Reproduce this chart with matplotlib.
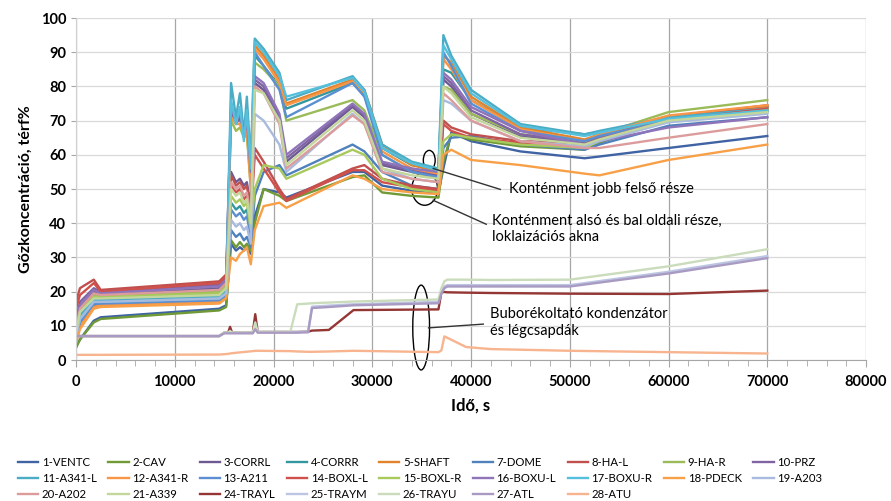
import matplotlib
matplotlib.use("Agg")
import matplotlib.pyplot as plt
from matplotlib.patches import Ellipse
from matplotlib.ticker import MultipleLocator

plt.rcParams['font.family'] = ['Lato', 'DejaVu Sans']

# time grid (s) for the containment series
T = [0, 400, 1800, 2500, 14500, 15200,
     15700, 16200, 16600, 17000, 17300, 17700,
     18100, 19000, 20600, 21300, 28000, 29200, 31000, 34000, 36700,
     37200, 38000, 40000, 45000, 51500, 53000, 60000, 70000]

v_ventc = [4, 6, 11.5, 12.5, 15, 16, 34, 32, 33, 32, 33, 31,
           42, 50, 49, 47.5, 55, 55, 51, 49.5, 49, 56, 66.5, 64, 61, 59, 59.5, 62, 65.5]
v_cav = [3.5, 6, 11, 12, 14.5, 15.5, 35, 33, 34.5, 33, 34, 32,
         40, 50, 48, 46.5, 53.5, 54, 49, 48, 47.5, 58, 66, 64.5, 62.5, 61.5, 63.5, 70.5, 74]
v_corrl = [10, 15, 20, 19, 21, 23, 55, 52, 53, 51, 52, 45,
           81, 79, 70, 58, 74, 71, 57, 55, 54, 82, 80, 72, 65.5, 63.5, 65, 71, 74]
v_corrr = [8, 13, 18, 17.5, 19, 20.5, 46, 44, 45, 43, 44, 37,
           89, 86, 80, 73.5, 81, 77.5, 62, 57, 56, 85, 84, 76, 68, 66, 66.5, 71, 73]
v_shaft = [6, 10, 16, 16, 17, 18.5, 72, 70, 70, 67, 68, 52,
           92, 89, 82, 75, 82, 79, 63, 57, 55, 89, 87, 77, 68, 64.5, 66, 71, 74]
v_dome = [6, 11, 16, 16.5, 17.5, 19, 38, 36, 37, 35, 36, 33,
          48, 55, 57, 54, 63, 61, 55, 51, 50, 62, 65, 65.5, 63, 61.5, 63, 68.5, 71]
v_hal = [17, 21, 23.5, 20.5, 23, 25, 54, 51, 52, 50, 51, 44,
         62, 58, 50, 47, 56, 57, 53, 51, 50, 70, 68, 66, 64, 63.5, 65, 71, 74.5]
v_har = [10, 15, 19, 18.5, 20, 22, 70, 67, 68, 65, 66, 50,
         87, 85, 80, 70, 76, 73, 60, 55, 53, 80, 79, 72, 66, 64, 66, 72.5, 76]
v_prz = [12, 17, 21, 20, 22, 24, 73, 69, 71, 66, 69, 54,
         82, 80, 71, 59, 74.5, 71.5, 57.5, 55.5, 54.5, 83, 81, 73, 66, 63.5, 65, 70, 73]
v_a341l = [7, 13, 17.5, 17.5, 18.5, 20, 81, 71, 78, 66, 77, 58,
           94, 91, 84, 76, 83, 79, 63, 58, 56, 95, 89, 79, 69, 66, 67, 71, 73.5]
v_a341r = [5, 10, 15.5, 16, 17, 18.5, 71, 69, 69, 66, 67, 50,
           91, 88, 81, 74.5, 81.5, 78, 61, 56, 54.5, 88, 85, 76, 67.5, 64, 66, 71.5, 74.5]
v_a211 = [6, 11, 16.5, 16.5, 17.5, 19, 44, 42, 43, 41, 42, 36,
          90, 86, 79, 71, 81, 77, 60, 55, 53.5, 90, 86, 75, 67, 64, 65.5, 70, 72.5]
v_boxll = [15, 19, 22.5, 20, 22.5, 24.5, 51, 49, 50, 47, 48, 41,
           60, 56, 49, 46.5, 55.5, 55.5, 52, 50.5, 49.5, 69, 67, 65, 63.5, 63, 64.5, 70, 73.5]
v_boxlr = [9, 14, 18.5, 18.5, 19.5, 21.5, 48, 46, 47, 45, 46, 38,
           50, 57, 56, 53, 61.5, 60, 53, 50, 49, 64, 66, 65, 63, 62, 64, 70, 73]
v_boxul = [11, 16, 20.5, 19.5, 21.5, 23.5, 74, 70, 72, 67, 70, 55,
           83, 81, 72, 60, 75, 72, 58, 56, 55, 84, 82, 74, 67, 63, 64, 68, 71]
v_boxur = [7, 12, 17, 17, 18, 19.5, 76, 69, 74, 64, 73, 56,
           93, 90, 83, 77, 82.5, 78.5, 62, 57.5, 55.5, 92, 88, 78, 68.5, 65.5, 66.5, 70.5, 73]
v_pdeck = [5, 9, 15, 15.5, 16.5, 18, 30, 29, 31, 32, 33, 28,
           38, 45, 46, 44.5, 54, 53, 50, 49, 48.5, 60, 61.5, 58.5, 57, 54.5, 54, 58.5, 63]
v_a203 = [7, 12, 17, 17, 18, 19.5, 41, 39, 40, 38, 39, 34,
          72, 70, 63, 55, 72, 69, 56, 53, 52, 76, 75, 70, 64, 62.5, 64, 69.5, 72]
v_a202 = [9, 15, 19.5, 19, 20.5, 22.5, 52, 50, 51, 48, 49, 42,
          80, 78, 69, 56, 71.5, 69, 55, 53, 52, 78, 76, 70, 64, 62, 62, 65, 69]
v_a339 = [8, 14, 18, 18, 19, 21, 50, 48, 49, 46, 47, 40,
          79, 78, 70, 57, 73, 70, 56, 54, 53, 80, 78, 71, 65, 63, 64.5, 70, 72.5]

# time grid (s) for bubbler condenser trays and air traps
TL = [0, 14500, 15000, 15400, 15600, 15800, 17900, 18150, 18400, 21700, 22400,
      23500, 23900, 25600, 28100, 36700, 37000, 37300, 37600, 39500, 42000,
      50000, 60000, 70000]
v_trayl = [7, 7, 8, 8, 9.7, 8, 8, 13.4, 8.2, 8.2, 8.2, 8.3, 8.6, 8.8, 14.6, 14.8,
           19.8, 19.9, 19.8, 19.7, 19.6, 19.4, 19.3, 20.3]
v_traym = [7, 7, 8, 8, 8, 8, 8, 9.5, 8.2, 8.2, 8.2, 8.3, 15.6, 15.9, 16.3, 17,
           20, 21.5, 21.9, 21.9, 21.9, 21.9, 25.8, 30.4]
v_trayu = [7, 7, 8, 8, 8.5, 8, 8, 11, 8.2, 8.2, 16.3, 16.5, 16.6, 16.8, 17.1, 17.7,
           21, 23, 23.5, 23.5, 23.4, 23.5, 27.4, 32.4]
v_atl = [7, 7, 7.8, 7.8, 7.8, 7.8, 7.8, 9, 8, 8, 8, 8.1, 15.2, 15.5, 16, 16.6,
         19.5, 21, 21.5, 21.5, 21.5, 21.5, 25.3, 29.8]
v_atu = [1.5, 1.6, 1.7, 1.8, 1.9, 2.0, 2.6, 2.7, 2.7, 2.6, 2.5, 2.4, 2.4, 2.5, 2.7, 2.3,
         2.8, 6.9, 6.5, 3.8, 3.2, 2.7, 2.3, 1.9]

series = [
    ('1-VENTC', T, v_ventc, '#3f63a3'),
    ('2-CAV', T, v_cav, '#6f9a35'),
    ('3-CORRL', T, v_corrl, '#6e5a92'),
    ('4-CORRR', T, v_corrr, '#34979f'),
    ('5-SHAFT', T, v_shaft, '#e0832c'),
    ('7-DOME', T, v_dome, '#4f81bd'),
    ('8-HA-L', T, v_hal, '#c0504d'),
    ('9-HA-R', T, v_har, '#9bbb59'),
    ('10-PRZ', T, v_prz, '#8064a2'),
    ('11-A341-L', T, v_a341l, '#4bacc6'),
    ('12-A341-R', T, v_a341r, '#f79646'),
    ('13-A211', T, v_a211, '#5b8fd2'),
    ('14-BOXL-L', T, v_boxll, '#d0504c'),
    ('15-BOXL-R', T, v_boxlr, '#a8c95c'),
    ('16-BOXU-L', T, v_boxul, '#8f74ba'),
    ('17-BOXU-R', T, v_boxur, '#56c0dc'),
    ('18-PDECK', T, v_pdeck, '#f8a048'),
    ('19-A203', T, v_a203, '#a8bbde'),
    ('20-A202', T, v_a202, '#dc9c9c'),
    ('21-A339', T, v_a339, '#c3d69b'),
    ('24-TRAYL', TL, v_trayl, '#943634'),
    ('25-TRAYM', TL, v_traym, '#bcc6e2'),
    ('26-TRAYU', TL, v_trayu, '#cadcbc'),
    ('27-ATL', TL, v_atl, '#a89ac2'),
    ('28-ATU', TL, v_atu, '#f7b48e'),
]

fig = plt.figure(figsize=(8.91, 5.01), dpi=100)
ax = fig.add_axes([0.0853, 0.2814, 0.8867, 0.6826])

handles = []
for name, tt, vv, col in series:
    h, = ax.plot(tt, vv, color=col, lw=1.7, label=name)
    handles.append(h)

ax.set_xlim(0, 80000)
ax.set_ylim(0, 100)
ax.xaxis.set_major_locator(MultipleLocator(10000))
ax.xaxis.set_minor_locator(MultipleLocator(2000))
ax.yaxis.set_major_locator(MultipleLocator(10))
ax.grid(axis='x', color='#a6a6a6', lw=0.9)
ax.grid(axis='y', color='#d9d9d9', lw=0.9)
ax.set_axisbelow(True)
for s in ['top', 'right']:
    ax.spines[s].set_visible(False)
ax.spines['left'].set_color('#d0d0d0')
ax.spines['bottom'].set_color('#a6a6a6')
ax.tick_params(axis='both', which='both', color='#a6a6a6', labelsize=10.5)
ax.tick_params(axis='x', which='minor', length=4)
ax.tick_params(axis='x', which='major', length=5, pad=6)
for lab in ax.get_xticklabels() + ax.get_yticklabels():
    lab.set_fontweight('bold')
ax.set_xlabel('Idő, s', fontsize=12, fontweight='bold', labelpad=6)
ax.set_ylabel('Gőzkoncentráció, térf%', fontsize=11.5, fontweight='bold', labelpad=6)

# annotations
ax.add_patch(Ellipse((35770, 58.4), 1200, 5.8, fill=False, ec='black', lw=1.0, clip_on=False))
ax.add_patch(Ellipse((35310, 50.1), 2600, 9.7, fill=False, ec='black', lw=1.0, clip_on=False))
ax.add_patch(Ellipse((34950, 9.5), 1700, 24.8, fill=False, ec='black', lw=1.0, clip_on=False))
ax.plot([36170, 42960], [56.0, 49.9], color='#333333', lw=1.0)
ax.plot([36170, 41540], [46.7, 39.7], color='#333333', lw=1.0)
ax.plot([35700, 41240], [9.4, 10.5], color='#333333', lw=1.0)
ax.text(43800, 49.9, 'Konténment jobb felső része', fontsize=10.5, va='center')
ax.text(42100, 38.3, 'Konténment alsó és bal oldali része,\nloklaizációs akna',
        fontsize=10.5, va='center', linespacing=1.25)
ax.text(41900, 11.0, 'Buborékoltató kondenzátor\nés légcsapdák',
        fontsize=10.5, va='center', linespacing=1.25)

# legend row-major, 9 columns
order = []
for j in range(9):
    for r in range(3):
        k = r * 9 + j
        if k < len(handles):
            order.append(k)
fig.legend([handles[k] for k in order], [series[k][0] for k in order],
           ncol=9, loc='upper left', bbox_to_anchor=(0.015, 0.097),
           frameon=False, fontsize=8.2, handlelength=1.8, handletextpad=0.3,
           columnspacing=1.0, labelspacing=0.42, borderaxespad=0)

fig.savefig('out.png', dpi=100)
